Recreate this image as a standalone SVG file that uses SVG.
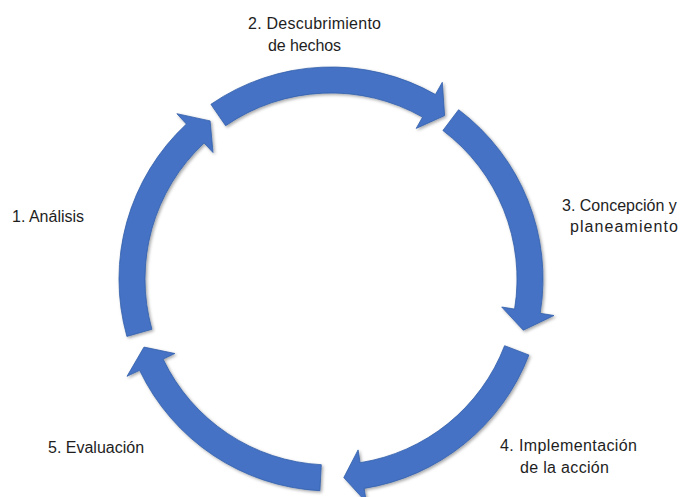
<svg xmlns="http://www.w3.org/2000/svg" width="683" height="497" viewBox="0 0 683 497">
  <style>
    .arc { fill: #4472C4; stroke: #3460ab; stroke-width: 0.8; stroke-linejoin: miter; filter: url(#shadow); }
    .lbl { font-family: "Liberation Sans", Arial, sans-serif; font-size: 16px; fill: #1e1e1e; }
  </style>
  <defs>
    <filter id="shadow" x="-10%" y="-10%" width="120%" height="120%">
      <feDropShadow dx="1.5" dy="1.5" stdDeviation="1.4" flood-color="#000" flood-opacity="0.35"/>
    </filter>
  </defs>

  <!-- ring of five curved arrows, centre (331,279), band radii 186..212 -->
  <g id="connectors">
    <path id="arrow-1-2" class="arc" d="M210.9,104.3 A212,212 0 0 1 435.4,94.5 L442.3,82.3 L444.6,115.6 L416.2,128.4 L422.6,117.1 A186,186 0 0 0 225.6,125.7 Z"/>
    <path id="arrow-2-3" class="arc" d="M458.6,109.7 A212,212 0 0 1 540.2,313.3 L554.0,315.5 L523.3,330.2 L501.7,307.0 L514.6,309.1 A186,186 0 0 0 442.9,130.5 Z"/>
    <path id="arrow-3-4" class="arc" d="M528.9,355.0 A212,212 0 0 1 364.2,488.4 L366.3,502.2 L343.8,477.6 L358.1,449.9 L360.1,462.7 A186,186 0 0 0 504.6,345.7 Z"/>
    <path id="arrow-4-5" class="arc" d="M319.9,490.7 A212,212 0 0 1 139.6,370.3 L127.0,376.3 L144.0,347.1 L174.9,353.5 L163.1,359.1 A186,186 0 0 0 321.3,464.7 Z"/>
    <path id="arrow-5-1" class="arc" d="M126.9,336.4 A212,212 0 0 1 186.4,124.0 L176.9,113.7 L210.1,120.9 L213.0,152.5 L204.1,143.0 A186,186 0 0 0 151.9,329.3 Z"/>
  </g>

  <g id="step-1">
    <text class="lbl" x="12" y="222">1. Análisis</text>
  </g>
  <g id="step-2">
    <text class="lbl" x="248" y="29" textLength="133">2. Descubrimiento</text>
    <text class="lbl" x="268" y="51" textLength="73">de hechos</text>
  </g>
  <g id="step-3">
    <text class="lbl" x="562" y="211">3. Concepción  y</text>
    <text class="lbl" x="570" y="232" textLength="108">planeamiento</text>
  </g>
  <g id="step-4">
    <text class="lbl" x="500" y="451" textLength="137">4. Implementación</text>
    <text class="lbl" x="520" y="473" textLength="89">de la acción</text>
  </g>
  <g id="step-5">
    <text class="lbl" x="48" y="453">5. Evaluación</text>
  </g>
</svg>
